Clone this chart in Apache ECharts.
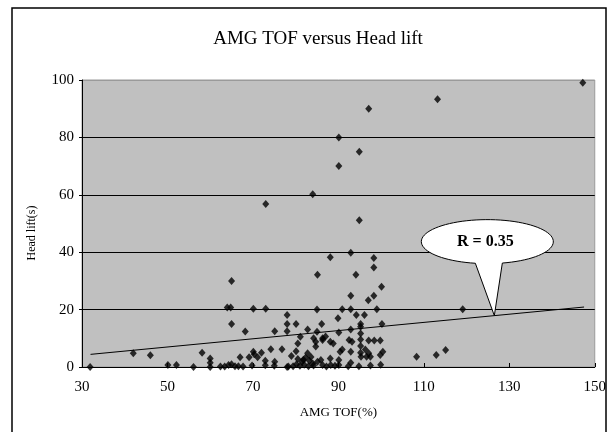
<!DOCTYPE html>
<html>
<head>
<meta charset="utf-8">
<script src="https://cdn.jsdelivr.net/npm/echarts@6/dist/echarts.min.js"></script>
<style>
html,body{margin:0;padding:0;background:#fff;}
#chart{width:609px;height:432px;}
</style>
</head>
<body>
<div id="chart"></div>
<script>
// ---- data ----
const chartTitle = 'AMG TOF versus Head lift';
const xAxisName = 'AMG TOF(%)';
const yAxisName = 'Head lift(s)';
const xTicks = [30, 50, 70, 90, 110, 130, 150];
const yTicks = [0, 20, 40, 60, 80, 100];
const rLabel = 'R = 0.35';

const tofValues = [
  147.2,113.2,97.1,90.1,94.9,90.1,84,73,94.9,92.9,88.1,98.3,98.3,85.1,94.1,65,100.1,92.9,98.3,97,
  64,64.8,70.1,73,85,90.9,92.9,99,119.1,
  78,94.2,96.1,89.9,
  65,78,80.1,86.1,95.2,100.2,95.2,
  68.2,75.1,78,82.8,85,90.1,92.9,95.2,
  81.1,84.2,86.3,87,92.5,93.2,95.2,97.1,98.4,99.8,88.1,88.8,80.5,84.7,86.3,
  74.2,76.8,80.1,84.7,90.9,90.4,92.9,95.2,96.3,97.1,100.4,99.8,95.2,70.1,72,70.3,58.1,42,46,82.8,108.3,112.9,115.1,
  67,69.1,71.1,79,96.6,97.5,95.3,88.1,60,85.9,90.1,72.9,60,75.1,92.9,
  80.5,81.5,82.3,83.2,84,80.2,81,82,83,84.2,85.1,81.8,83.6,
  31.9,50.1,52.1,56.1,60,62.4,63.4,65,65.8,66.6,67.7,69.8,72.9,75,78.3,79.4,86.3,88.2,90.1,94.8,97.5,99.9,64.3,78,87.2,89.2,92.3
];
const liftValues = [
  99,93.3,90,80,75,70,60.2,56.8,51.1,39.8,38.2,38,34.7,32.1,32.1,30,28,24.8,24.8,23.3,
  20.7,20.7,20.3,20.3,20,20.1,20.1,20.1,20.1,
  18.1,18.1,18.1,17,
  15,15,15,15,15,15,14,
  12.4,12.5,12.5,13.1,12.3,12,13.1,11.7,
  10.5,10,10,10.6,9.4,8.8,9.6,9.2,9.2,9.2,8.8,8.2,8.2,8.8,9.4,
  6.2,6.2,5.5,7.1,6.1,5.3,5.3,5,6.1,4.8,5.3,4.2,7.3,5.3,5,4.4,5,4.8,4.1,4.8,3.6,4.2,5.9,
  3.4,3.4,3.4,3.8,3.6,3.6,3.6,3,3,2.4,2.4,2.2,1.5,1.8,1.5,
  2.8,1.9,3.2,2.2,1.2,1,0.4,0.8,0.3,0.5,1.8,2.5,3.5,
  0,0.7,0.7,0,0,0.2,0.2,1,0.3,0.3,0.2,0.5,0.6,0.4,0.2,0.3,0.7,0.7,0.7,0.3,0.5,0.8,0.7,0,0.2,0.4,0.3
];
// linear trend line end points
const trendX = [32, 147.5];
const trendY = [4.4, 20.9];
// where the callout points on the trend line
const calloutAtX = 126.5;

// ---- build ----
const points = tofValues.map((x, i) => [x, liftValues[i]]);
const trend = trendX.map((x, i) => [x, trendY[i]]);
const serif = '"Liberation Serif","DejaVu Serif","Times New Roman",serif';

const chart = echarts.init(document.getElementById('chart'), null, {renderer: 'canvas'});
const baseGraphic = [
  {type: 'rect', shape: {x: 12, y: 8, width: 594, height: 432}, style: {fill: 'none', stroke: '#000', lineWidth: 1.5}, silent: true},
  {type: 'text', x: 318, y: 39, style: {text: chartTitle, font: '19px ' + serif, fill: '#000', align: 'center', verticalAlign: 'middle'}},
  {type: 'text', x: 32, y: 233, rotation: Math.PI / 2, style: {text: yAxisName, font: '12px ' + serif, fill: '#000', align: 'center', verticalAlign: 'middle'}}
];
const option = {
  backgroundColor: '#ffffff',
  animation: false,
  grid: {
    left: 82, top: 80, right: 8, bottom: 65,
    show: true, backgroundColor: '#c0c0c0', borderColor: '#9a9a9a', borderWidth: 1
  },
  xAxis: {
    type: 'value', min: xTicks[0], max: xTicks[xTicks.length - 1], interval: xTicks[1] - xTicks[0],
    name: xAxisName, nameLocation: 'middle', nameGap: 39,
    nameTextStyle: {fontFamily: serif, fontSize: 13, color: '#000'},
    axisLine: {show: true, onZero: false, lineStyle: {color: '#000', width: 1}},
    axisTick: {show: true, inside: true, length: 4, lineStyle: {color: '#000'}},
    axisLabel: {fontFamily: serif, fontSize: 15, color: '#000', margin: 13},
    splitLine: {show: false}
  },
  yAxis: {
    type: 'value', min: yTicks[0], max: yTicks[yTicks.length - 1], interval: yTicks[1] - yTicks[0],
    axisLine: {show: true, onZero: false, lineStyle: {color: '#000', width: 1}},
    axisTick: {show: true, inside: false, length: 3, lineStyle: {color: '#000'}},
    axisLabel: {fontFamily: serif, fontSize: 15, color: '#000', margin: 8},
    splitLine: {show: true, lineStyle: {color: ['#000', '#000', '#000', '#000', '#000', '#9a9a9a'], width: 1.2}}
  },
  series: [
    {
      type: 'scatter', data: points, symbol: 'diamond', symbolSize: [7, 8],
      itemStyle: {color: '#000'}, z: 3
    },
    {
      type: 'line', data: trend, showSymbol: false, symbol: 'none',
      lineStyle: {color: '#000', width: 1}, z: 2
    }
  ],
  graphic: baseGraphic
};
chart.setOption(option);

// callout balloon anchored to the trend line
const tY = trendY[0] + (calloutAtX - trendX[0]) * (trendY[1] - trendY[0]) / (trendX[1] - trendX[0]);
const tip = chart.convertToPixel({gridIndex: 0}, [calloutAtX, tY]);
const cx = tip[0] - 7, cy = tip[1] - 74, rx = 66, ry = 22;
const a0 = Math.acos(-12 / rx), a1 = Math.acos(15 / rx) + Math.PI * 2;
const poly = [];
for (let k = 0; k <= 80; k++) {
  const a = a0 + (a1 - a0) * k / 80;
  poly.push([cx + rx * Math.cos(a), cy + ry * Math.sin(a)]);
}
poly.push([tip[0], tip[1]]);
chart.setOption({
  graphic: baseGraphic.concat([
    {type: 'polygon', shape: {points: poly}, style: {fill: '#fff', stroke: '#000', lineWidth: 1}, z: 10},
    {type: 'text', x: cx - 2, y: cy, style: {text: rLabel, font: 'bold 16px ' + serif, fill: '#000', align: 'center', verticalAlign: 'middle'}, z: 11}
  ])
});
</script>
</body>
</html>
